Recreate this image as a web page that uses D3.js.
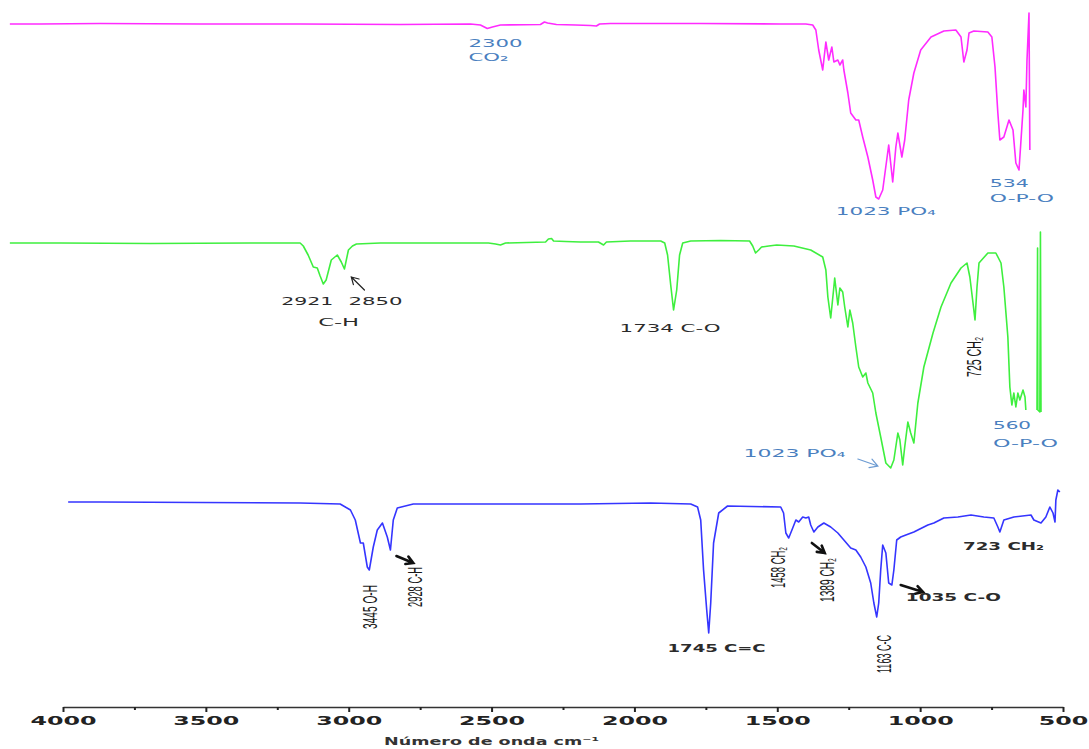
<!DOCTYPE html>
<html>
<head>
<meta charset="utf-8">
<script src="https://cdn.jsdelivr.net/npm/d3@7/dist/d3.min.js"></script>
<style>
  html, body { margin: 0; padding: 0; background: #fff; }
  svg { display: block; }
</style>
</head>
<body>
<svg id="chart" width="1089" height="749"></svg>
<script>
// ---------------- DATA (wavenumber cm-1, offset transmittance a.u.) ----------------
const magentaWn = [4186,4081,3870,3520,3170,2819,2574,2539,2515,2497,2469,2329,2315,2304,2273,2206,2154,2133,2122,2084,1768,1488,1400,1376,1365,1355,1341,1330,1320,1309,1302,1288,1281,1271,1267,1253,1243,1225,1215,1201,1183,1166,1155,1145,1131,1117,1110,1096,1085,1078,1064,1054,1040,1022,998,962,917,875,857,847,836,829,812,763,749,738,728,721,707,689,675,665,654,647,640,637,630,626,623,619,616];
const magentaT  = [684,684,684.5,684,684,683.5,684,683,679.5,681,683,683.5,686,685,683.5,683,682.5,682,684,684.5,684.5,684,684,683,678,658,638,666,648,661,646,648,643,648,638,615,595,588,588,571,551,528,511,509,518,548,563,526,561,575,551,568,608,635,658,671,677,678,671,646,658,675,677,676,671,641,595,568,571,588,578,545,538,568,598,618,601,648,668,695,558];

const greenWn = [4186,4010,3695,3345,3170,3159,3142,3124,3110,3100,3089,3079,3061,3040,3026,3015,3001,2987,2973,2889,2644,2511,2486,2469,2451,2311,2301,2290,2283,2241,2189,2126,2108,2098,2014,1908,1894,1884,1873,1863,1852,1842,1831,1803,1698,1597,1586,1576,1565,1555,1530,1502,1442,1383,1341,1330,1323,1313,1302,1299,1288,1281,1271,1264,1253,1246,1236,1225,1215,1201,1190,1183,1166,1155,1138,1120,1103,1092,1078,1071,1061,1054,1043,1033,1022,1008,987,955,927,892,857,836,826,815,808,801,794,763,735,717,707,693,686,679,672,665,658,651,640,633,630,610,591,589,588,581,579,577];
const greenT  = [465,465,464.5,465,465,462,453,441,440,432,424,428,448,453,446,439,458,462,464,465,465,465,464,463,465,466,469,469.5,467,466.5,466,466,463,466,467,467,465,453,423,398,418,453,465,467,467.5,467,462,455,458,461,462,463,462,458,451,438,411,390,421,430,403,420,416,401,381,398,385,361,341,331,335,325,315,295,271,245,240,248,275,268,243,261,286,275,265,305,341,375,401,425,440,445,431,405,388,421,445,455,455,445,421,371,321,303,315,301,315,308,318,311,298,null,298,460,298,296,476,296];

const blueWn = [3982,3870,3520,3170,3030,2994,2977,2959,2949,2935,2928,2914,2900,2882,2865,2854,2844,2830,2774,2469,2189,1943,1803,1779,1768,1758,1747,1740,1733,1723,1705,1674,1488,1478,1470,1460,1446,1435,1425,1411,1400,1390,1383,1372,1358,1337,1313,1288,1267,1243,1225,1208,1190,1173,1162,1152,1145,1138,1131,1120,1110,1099,1092,1082,1068,1050,1022,973,952,917,868,822,777,742,728,721,707,672,612,602,577,560,546,535,528,525,518,511];
const blueT  = [206,206,205.5,205,204,198,188,165,165,141,138,161,178,185,171,158,188,200,204,204,204,205,204,201,188,138,98,75,105,165,195,202,201,195,175,170,180,188,186,191,190,191,183,176,181,185,181,175,168,160,158,151,141,125,105,91,105,138,163,155,125,123,138,168,171,173,176,183,185,190,191,193,191,190,181,176,188,191,193,188,185,191,201,195,186,208,218,216];

const tickValues  = [4000,3500,3000,2500,2000,1500,1000,500];
const minorTicks  = [3750,3250,2750,2250,1750,1250,750];
const axisTitle   = "Número de onda cm⁻¹";

// Peak annotations: text, anchor wavenumber, anchor value
const hLabels = [
  {t:"2300",      wn:2581, v:661, kind:"blue"},
  {t:"CO₂",       wn:2581, v:647, kind:"blue"},
  {t:"1023 PO₄",  wn:1295, v:493, kind:"blue"},
  {t:"534",       wn:756,  v:521, kind:"blue"},
  {t:"O-P-O",     wn:756,  v:506, kind:"blue"},
  {t:"2921",      wn:3236, v:403, kind:"dark"},
  {t:"2850",      wn:3001, v:403, kind:"dark"},
  {t:"C-H",       wn:3107, v:382, kind:"dark"},
  {t:"1734 C-O",  wn:2052, v:376, kind:"dark"},
  {t:"560",       wn:745,  v:279, kind:"blue"},
  {t:"O-P-O",     wn:745,  v:261, kind:"blue"},
  {t:"1023 PO₄",  wn:1618, v:251, kind:"blue"},
  {t:"1745 C=C",  wn:1884, v:56,  kind:"bold"},
  {t:"1035 C-O",  wn:1050, v:107, kind:"bold"},
  {t:"723 CH₂",   wn:850,  v:158, kind:"bold"}
];
const hWidths = [54,40,100,39,64,52,54,41,101,38,65,102,98,95,81];

const vLabels = [
  {t:"725 CH₂",  wn:787,  v:331},
  {t:"3445 O-H", wn:2900, v:79},
  {t:"2928 C-H", wn:2742, v:101},
  {t:"1458 CH₂", wn:1474, v:120},
  {t:"1389 CH₂", wn:1302, v:106},
  {t:"1163 C-C", wn:1103, v:35}
];
const vLengths = [40,44,40,41,44,38];

const arrows = [
  {from:[2945,418], to:[2991,431], kind:"thin"},
  {from:[1218,249], to:[1148,242], kind:"thinblue"},
  {from:[2833,152], to:[2774,145], kind:"thick"},
  {from:[1379,165], to:[1334,155], kind:"thick"},
  {from:[1068,123], to:[990,116],  kind:"thick"}
];

// ---------------- DRAWING ----------------
const svg = d3.select("#chart");
const x = d3.scaleLinear().domain([4000, 500]).range([63, 1063]);
const y = d3.scaleLinear().domain([0, 700]).range([708, 8]);

const mk = (wn, t) => wn.map((w, i) => ({w, v: t[i]}));
const line = d3.line()
  .defined(d => d.v !== null)
  .x(d => x(d.w)).y(d => y(d.v))
  .curve(d3.curveLinear);

const series = [
  {data: mk(magentaWn, magentaT), color: "#ff2bff"},
  {data: mk(greenWn, greenT),     color: "#3eef3e"},
  {data: mk(blueWn, blueT),       color: "#3535ff"}
];
svg.append("g").selectAll("path").data(series).join("path")
  .attr("d", d => line(d.data))
  .attr("fill", "none")
  .attr("stroke", d => d.color)
  .attr("stroke-width", 1.6)
  .attr("stroke-linejoin", "round");

const SX = 1.6;
const FONT = "DejaVu Sans, Verdana, sans-serif";

// Axis
const axisY = 707;
const gx = svg.append("g").attr("transform", `translate(0,${axisY})`)
  .call(d3.axisBottom(x).tickValues(tickValues).tickFormat(d3.format("d"))
        .tickSize(5).tickSizeOuter(0).tickPadding(4));
gx.select(".domain").attr("stroke", "#333").attr("stroke-width", 1.6);
gx.selectAll(".tick line").attr("stroke", "#222").attr("stroke-width", 2);
gx.selectAll(".tick text")
  .attr("font-family", FONT)
  .attr("font-size", 12)
  .attr("font-weight", "bold")
  .attr("fill", "#222")
  .attr("transform", `scale(${SX},1)`)
  .attr("textLength", d => String(d).length * 16.5 / SX)
  .attr("lengthAdjust", "spacingAndGlyphs");

const gm = svg.append("g").attr("transform", `translate(0,${axisY})`)
  .call(d3.axisBottom(x).tickValues(minorTicks).tickFormat("").tickSize(3).tickSizeOuter(0));
gm.select(".domain").remove();
gm.selectAll(".tick line").attr("stroke", "#222").attr("stroke-width", 2);

svg.append("text")
  .attr("transform", `translate(${x(2500)},745) scale(${SX},1)`)
  .attr("text-anchor", "middle")
  .attr("font-family", FONT)
  .attr("font-size", 11)
  .attr("font-weight", "bold")
  .attr("fill", "#333")
  .attr("textLength", 215 / SX)
  .attr("lengthAdjust", "spacingAndGlyphs")
  .text(axisTitle);

// Horizontal annotations
const labelColor = {blue: "#4a7fbf", dark: "#2b2b2b", bold: "#2b2b2b"};
svg.append("g").selectAll("text").data(hLabels).join("text")
  .attr("transform", d => `translate(${x(d.wn)},${y(d.v)}) scale(${SX},1)`)
  .attr("font-family", FONT)
  .attr("font-size", 11)
  .attr("font-weight", d => d.kind === "bold" ? "bold" : "normal")
  .attr("fill", d => labelColor[d.kind])
  .attr("textLength", (d, i) => hWidths[i] / SX)
  .attr("lengthAdjust", "spacingAndGlyphs")
  .text(d => d.t);

// Rotated annotations
svg.append("g").selectAll("text").data(vLabels).join("text")
  .attr("transform", d => `translate(${x(d.wn)},${y(d.v)}) scale(1.5,1) rotate(-90)`)
  .attr("font-family", "Liberation Sans Narrow, Arial Narrow, Liberation Sans, sans-serif")
  .attr("font-size", 13)
  .attr("fill", "#1a1a1a")
  .attr("textLength", (d, i) => vLengths[i])
  .attr("lengthAdjust", "spacingAndGlyphs")
  .text(d => d.t);

// Arrows
const arrowStyle = {
  thin: {c: "#222", w: 1.2, h: 8},
  thinblue: {c: "#6c9bd2", w: 1.2, h: 9},
  thick: {c: "#111", w: 2.6, h: 8}
};
svg.append("g").selectAll("path").data(arrows).join("path")
  .attr("d", d => {
    const x0 = x(d.from[0]), y0 = y(d.from[1]);
    const x1 = x(d.to[0]),   y1 = y(d.to[1]);
    const a = Math.atan2(y1 - y0, x1 - x0);
    const h = arrowStyle[d.kind].h, s = Math.PI / 6;
    const p1 = [x1 - h * Math.cos(a - s), y1 - h * Math.sin(a - s)];
    const p2 = [x1 - h * Math.cos(a + s), y1 - h * Math.sin(a + s)];
    return `M${x0},${y0}L${x1},${y1}M${p1[0]},${p1[1]}L${x1},${y1}L${p2[0]},${p2[1]}`;
  })
  .attr("fill", "none")
  .attr("stroke", d => arrowStyle[d.kind].c)
  .attr("stroke-width", d => arrowStyle[d.kind].w)
  .attr("stroke-linecap", "round")
  .attr("stroke-linejoin", "miter");
</script>
</body>
</html>
